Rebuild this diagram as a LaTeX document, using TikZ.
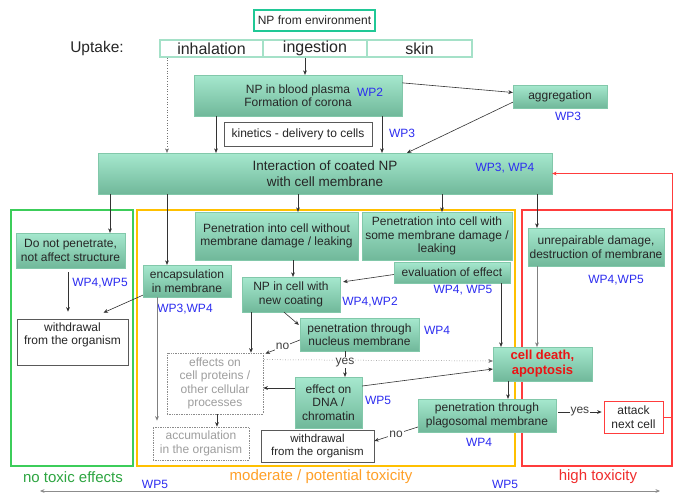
\documentclass[tikz,border=0pt]{standalone}
\usepackage{fontspec}
\setmainfont{Liberation Sans}
\usetikzlibrary{arrows.meta,shadows,calc}

\definecolor{gtop}{RGB}{166,232,206}
\definecolor{gbot}{RGB}{112,184,154}
\definecolor{gedge}{RGB}{130,200,170}
\definecolor{envc}{RGB}{32,200,150}
\definecolor{upc}{RGB}{165,225,200}
\definecolor{wpblue}{RGB}{45,45,240}
\definecolor{zgreen}{RGB}{60,205,90}
\definecolor{zorange}{RGB}{255,192,0}
\definecolor{zred}{RGB}{255,60,60}
\definecolor{zgreentxt}{RGB}{45,165,65}
\definecolor{zorangetxt}{RGB}{255,160,40}
\definecolor{zredtxt}{RGB}{240,45,45}
\definecolor{deathred}{RGB}{235,20,20}

% box given by its corners: style, name, x1, y1, x2, y2, text
\newcommand\bx[7]{%
  \pgfmathsetmacro\bxw{#5-#3}\pgfmathsetmacro\bxh{#6-#4}%
  \pgfmathsetmacro\bxx{(#3+#5)/2}\pgfmathsetmacro\bxy{(#4+#6)/2}%
  \node[#1, minimum width=\bxw pt, minimum height=\bxh pt] (#2) at (\bxx,\bxy) {#7};}

\begin{document}
\begin{tikzpicture}[x=1pt,y=-1pt,
  base/.style={font=\fontsize{12}{13.5}\selectfont, align=center, inner sep=1pt, text=black!85},
  softshadow/.style={drop shadow={opacity=0.25,shadow xshift=1.4pt,shadow yshift=-1.4pt}},
  gbox/.style={base, top color=gtop, bottom color=gbot, draw=gedge, line width=0.3pt, softshadow},
  wbox/.style={base, draw=black!65, fill=white, line width=0.7pt, softshadow},
  dbox/.style={base, draw=black!45, densely dotted, fill=white, line width=0.7pt, text=black!38},
  rbox/.style={base, draw=zred, fill=white, line width=0.8pt},
  envbox/.style={base, draw=envc, fill=white, line width=1.3pt},
  upbox/.style={font=\fontsize{16}{18}\selectfont, inner sep=0pt, draw=upc, fill=white, line width=1.2pt, text=black!85, softshadow},
  region/.style={draw, line width=1.8pt},
  lab/.style={font=\fontsize{15}{17}\selectfont, inner sep=0pt},
  wp/.style={font=\fontsize{12}{13.5}\selectfont, text=wpblue, inner sep=0pt},
  plain/.style={base},
  yn/.style={font=\fontsize{12}{13.5}\selectfont, fill=white, inner sep=1pt, text=black!75},
  arr/.style={draw=black!80, line width=0.6pt, -{Stealth[length=4.5pt,width=3.8pt]}},
  garr/.style={arr, draw=black!50},
  darr/.style={arr, dotted, draw=black!55, line width=0.5pt},
  rarr/.style={draw=zred, line width=0.7pt, -{Stealth[length=4.5pt,width=3.8pt]}}
]
\fill[white] (0,0) rectangle (673,493);
\useasboundingbox (0,0) rectangle (673,493);

% toxicity regions
\bx{region, draw=zgreen}{rgreen}{11}{210}{133}{466}{}
\bx{region, draw=zorange}{rorange}{137}{210}{515}{466}{}
\bx{region, draw=zred}{rred}{522}{210}{672}{466}{}
\node[lab, text=zgreentxt] (lgreen) at (73,477) {no toxic effects};
\node[lab, text=zorangetxt] (lorange) at (321,477) {moderate / potential toxicity};
\node[lab, text=zredtxt] (lred) at (598,477) {high toxicity};

% uptake
\bx{envbox}{env}{254}{10}{375}{31}{NP from environment}
\node[font=\fontsize{15.5}{18}\selectfont, text=black!85] (upt) at (97,48) {Uptake:};
\bx{upbox}{inh}{160}{40}{263}{57}{inhalation}
\bx{upbox}{ing}{263}{40}{367}{57}{ingestion}
\bx{upbox}{skin}{367}{40}{472}{57}{skin}

% blood and membrane
\bx{gbox}{blood}{194}{75}{402}{116}{NP in blood plasma\\Formation of corona}
\node[wp] (wpa) at (370,92) {WP2};
\bx{wbox}{kin}{224}{122}{372}{146}{kinetics - delivery to cells}
\node[wp] (wpb) at (402,133) {WP3};
\bx{gbox}{agg}{513}{85}{607}{108}{aggregation}
\node[wp] (wpc) at (568,116) {WP3};
\bx{gbox, font=\fontsize{13.5}{15.5}\selectfont}{inter}{98}{153}{552}{194}{Interaction of coated NP\\with cell membrane}
\node[wp] (wpd) at (505,168) {WP3, WP4};

% no toxic effects
\bx{gbox}{dnp}{16}{233}{125}{268}{Do not penetrate,\\not affect structure}
\node[wp] (wpe) at (100,283) {WP4,WP5};
\bx{wbox}{wd1}{17}{319}{128}{365}{}
\node[plain] (wd1t) at (72.5,335) {withdrawal\\from the organism};

% moderate toxicity
\bx{gbox}{pwo}{195}{212}{358}{260}{Penetration into cell without\\membrane damage / leaking}
\bx{gbox}{pwi}{362}{212}{512}{260}{Penetration into cell with\\some membrane damage /\\leaking}
\bx{gbox}{evl}{394}{262}{510}{283}{evaluation of effect}
\node[wp] (wpf) at (463,290) {WP4, WP5};
\bx{gbox}{enc}{143}{265}{231}{297}{encapsulation\\in membrane}
\node[wp] (wpg) at (185,309) {WP3,WP4};
\bx{gbox}{npc}{242}{277}{340}{312}{NP in cell with\\new coating}
\node[wp] (wph) at (370,302) {WP4,WP2};
\bx{gbox}{nuc}{300}{318}{419}{351}{penetration through\\nucleus membrane}
\node[wp] (wpi) at (437,330) {WP4};
\bx{dbox}{eff}{167}{353}{263}{414}{effects on\\cell proteins /\\other cellular\\processes}
\bx{gbox}{dna}{295}{377}{362}{428}{effect on\\DNA /\\chromatin}
\node[wp] (wpj) at (378,400) {WP5};
\bx{dbox}{acc}{153}{427}{249}{460}{accumulation\\in the organism}
\bx{wbox, font=\fontsize{11.5}{13}\selectfont}{wd2}{261}{430}{374}{462}{withdrawal\\from the organism}
\bx{gbox}{plg}{418}{399}{556}{432}{penetration through\\plagosomal membrane}
\node[wp] (wpk) at (479,442) {WP4};

% high toxicity
\bx{gbox, text=deathred, font=\bfseries\fontsize{13}{15}\selectfont}{death}{493}{347}{592}{381}{cell death,\\apoptosis}
\bx{gbox}{unr}{528}{228}{664}{266}{unrepairable damage,\\destruction of membrane}
\node[wp] (wpl) at (616,280) {WP4,WP5};
\bx{rbox}{att}{604}{401}{663}{433}{attack\\next cell}

% bottom scale
\node[wp] (wpm) at (155,484) {WP5};
\node[wp] (wpn) at (505,484) {WP5};
\coordinate (sl) at (40,491);
\coordinate (sr) at (660,491);
\draw[draw=black!45, line width=0.6pt, {Stealth[length=4.5pt,width=3.8pt]}-{Stealth[length=4.5pt,width=3.8pt]}] (sl) -- (sr);

% connectors: uptake to membrane
\draw[arr] (ing.south -| 305,0) -- (blood.north -| 305,0);
\draw[darr] (inh.south -| 167,0) -- (inter.north -| 167,0);
\draw[arr] (blood.south -| 216,0) -- (inter.north -| 216,0);
\draw[arr] (blood.south -| 382,0) -- (inter.north -| 382,0);
\draw[arr] ($(blood.north east)+(0,8)$) -- ($(agg.west)+(0,-4)$);
\draw[arr] ($(agg.south west)+(0,-6)$) -- (inter.north -| 407,0);

% connectors: membrane to outcomes
\draw[arr] (inter.south -| 110,0) -- (dnp.north -| 110,0);
\draw[arr] (inter.south -| 167,0) -- (enc.north -| 167,0);
\draw[arr] (inter.south -| 298,0) -- (pwo.north -| 298,0);
\draw[arr] (inter.south -| 442,0) -- (pwi.north -| 442,0);
\draw[arr] (inter.south -| 537,0) -- (unr.north -| 537,0);
\draw[rarr] (att.east) -- (att.east -| 672,0) -- (inter.east -| 672,0) -- (inter.east);

% connectors: no toxic effects
\draw[arr, shorten <=4pt, shorten >=7pt] (dnp.south -| 68,0) -- (wd1.north -| 68,0);
\draw[arr] ($(enc.south west)+(0,-2)$) -- ($(wd1.north)+(31,-6)$);

% connectors: moderate toxicity
\draw[garr, shorten >=6pt] (enc.south -| 157,0) -- (acc.north -| 157,0);
\draw[arr] (pwo.south -| 293,0) -- (npc.north -| 293,0);
\draw[arr] ($(evl.west)+(0,2)$) -- ($(npc.north east)+(3,5)$);
\draw[arr] (evl.south -| 501,0) -- (death.north -| 501,0);
\draw[arr] (npc.south -| 251,0) -- (eff.north -| 251,0);
\draw[arr] ($(npc.south)+(-7,0)$) -- ($(nuc.north west)+(-1,7)$);
\draw[darr] ($(eff.north east)+(1,7)$) -- ($(death.west)+(0,-3)$);
\draw[arr] ($(nuc.west)+(0,5.5)$) -- node[yn] {no} ($(eff.north east)+(2,1)$);
\draw[arr] (nuc.south -| 345,0) -- node[yn, pos=0.45] {yes} (dna.north -| 345,0);
\draw[arr] (dna.west |- 0,388) -- (eff.east |- 0,388);
\draw[arr] (dna.east |- 0,386) -- (death.west |- 0,369);
\draw[arr] (eff.south -| 217,0) -- (acc.north -| 217,0);
\draw[arr] (death.south -| 508,0) -- (plg.north -| 508,0);
\draw[arr] (plg.west |- 0,427) -- node[yn] {no} (wd2.east |- 0,441);

% connectors: high toxicity
\draw[garr] (unr.south -| 537,0) -- (death.north -| 537,0);
\draw[arr, shorten <=2pt, shorten >=2pt] (plg.east |- 0,412) -- node[yn] {yes} (att.west |- 0,412);
\end{tikzpicture}
\end{document}
